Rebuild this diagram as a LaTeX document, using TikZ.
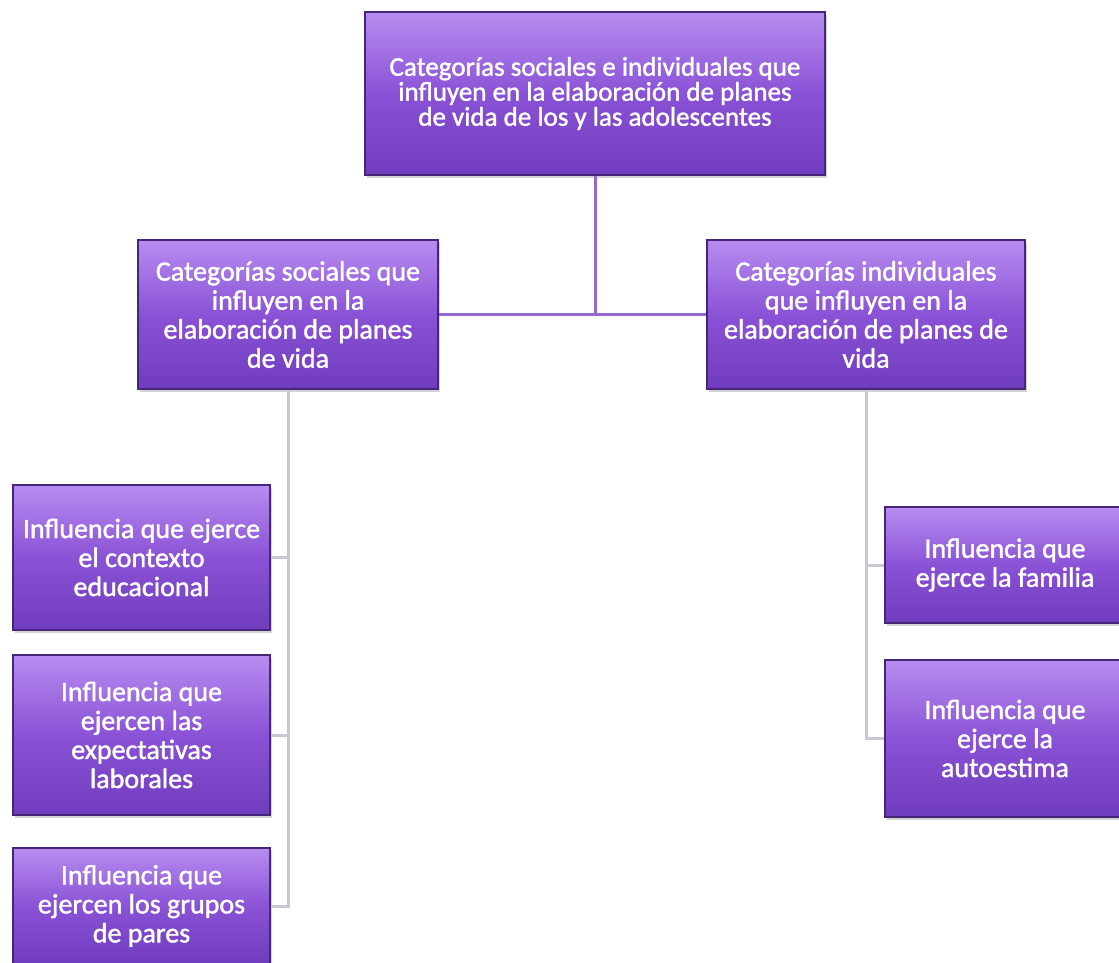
\documentclass[tikz,border=0pt]{standalone}
\usepackage{fontspec}
\setmainfont{Carlito}
\newfontface\boxfont{Carlito}[FakeBold=1.4]
\usetikzlibrary{shadows}
\definecolor{boxpurple}{RGB}{138,82,214}
\definecolor{boxtop}{RGB}{184,140,240}
\definecolor{boxbot}{RGB}{112,60,190}
\definecolor{boxedge}{RGB}{70,38,120}
\definecolor{toplinecol}{RGB}{150,104,210}
\definecolor{sublinecol}{RGB}{200,200,210}
\tikzset{
    catbox/.style={rectangle,draw=boxedge,line width=1.2pt,top color=boxtop,bottom color=boxbot,middle color=boxpurple,
        drop shadow={opacity=0.35,shadow xshift=1.5pt,shadow yshift=-2.5pt},
        text=white,align=center,inner sep=2pt,font=\boxfont\fontsize{28}{29}\selectfont},
    toplink/.style={draw=toplinecol,line width=3pt},
    sublink/.style={draw=sublinecol,line width=3pt}
}

\begin{document}
\begin{tikzpicture}[x=1pt,y=-1pt]
    \useasboundingbox (0,0) rectangle (1119,962);
    \clip (0,0) rectangle (1119,962);
    \node[catbox,minimum width=460pt,minimum height=163pt,font=\boxfont\fontsize{27}{25}\selectfont] (root) at (595,93.5)
        {Categorías sociales e individuales que\\influyen en la elaboración de planes\\de vida de los y las adolescentes};
    \node[catbox,minimum width=300pt,minimum height=149pt] (social) at (288,314.5)
        {Categorías sociales que\\influyen en la\\elaboración de planes\\de vida};
    \node[catbox,minimum width=318pt,minimum height=149pt] (individual) at (866,314.5)
        {Categorías individuales\\que influyen en la\\elaboración de planes de\\vida};
    \node[catbox,minimum width=257pt,minimum height=145pt] (educ) at (141.5,557.5)
        {Influencia que ejerce\\el contexto\\educacional};
    \node[catbox,minimum width=257pt,minimum height=160pt] (laboral) at (141.5,735)
        {Influencia que\\ejercen las\\expectativas\\laborales};
    \node[catbox,minimum width=257pt,minimum height=116pt] (pares) at (141.5,906)
        {Influencia que\\ejercen los grupos\\de pares};
    \node[catbox,minimum width=240pt,minimum height=116pt] (familia) at (1005,565)
        {Influencia que\\ejerce la familia};
    \node[catbox,minimum width=240pt,minimum height=157pt] (autoestima) at (1005,738.5)
        {Influencia que\\ejerce la\\autoestima};
    \draw[toplink] (root.south) -- (root.south |- social.east);
    \draw[toplink] (social.east) -- (individual.west);
    \draw[sublink] (social.south) |- (educ.east);
    \draw[sublink] (social.south) |- (laboral.east);
    \draw[sublink] (social.south) |- (pares.east);
    \draw[sublink] (individual.south) |- (familia.west);
    \draw[sublink] (individual.south) |- (autoestima.west);
\end{tikzpicture}
\end{document}
